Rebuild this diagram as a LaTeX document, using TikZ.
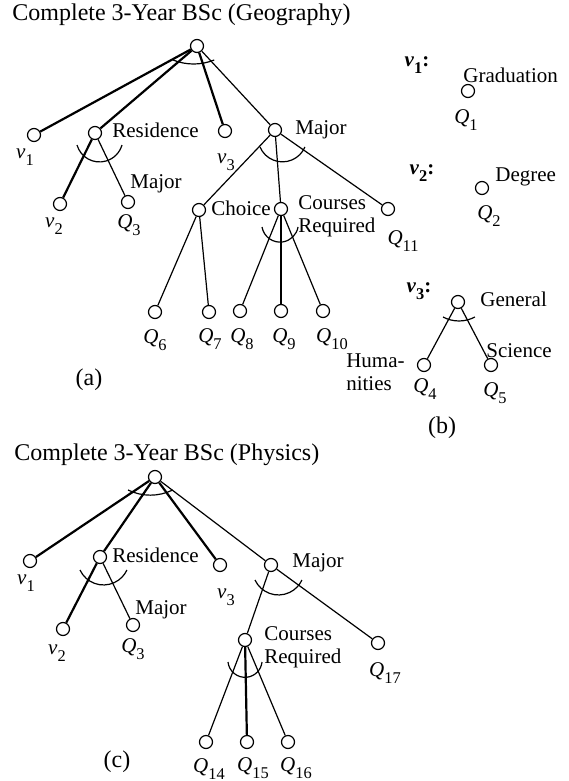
\documentclass[tikz,border=0pt]{standalone}
\usepackage{fontspec}
\setmainfont{Liberation Serif}
\usepackage{tikz}
\usetikzlibrary{calc}
\newcommand{\subdig}[1]{\raisebox{-0.32em}{\fontsize{8.2}{8.2}\selectfont #1}}
\newcommand{\qlab}[1]{\textit{Q}\subdig{#1}}
\newcommand{\vlab}[1]{\textit{v}\subdig{#1}}

\begin{document}
\begin{tikzpicture}[x=0.5pt, y=0.5pt,
        goal/.style={draw, circle, minimum size=6.5pt, inner sep=0pt, line width=0.6pt},
        txt/.style={inner sep=0pt, font=\fontsize{10.5}{11.5}\selectfont, align=left},
        ttl/.style={inner sep=0pt, font=\fontsize{12}{14}\selectfont},
        link/.style={line width=0.6pt},
        mustlink/.style={line width=1.1pt},
        andarc/.style={line width=0.6pt}
    ]
        \useasboundingbox (0,0) rectangle (568,-781);

        % (a) geography
        \node (ttla) [ttl, anchor=west] at (12,-15) {Complete 3-Year BSc (Geography)};
        \node (rta) [goal] at (197,-46) {};
        \node (v1a) [goal] at (34,-135) {};
        \node (resa) [goal] at (95,-133) {};
        \node (v3a) [goal] at (225,-131) {};
        \node (maja) [goal] at (275,-130) {};
        \node (v2a) [goal] at (60,-204) {};
        \node (q3a) [goal] at (128,-202) {};
        \node (choa) [goal] at (199,-210) {};
        \node (coua) [goal] at (281,-209) {};
        \node (q11a) [goal] at (388,-209) {};
        \node (q6a) [goal] at (155,-312) {};
        \node (q7a) [goal] at (209,-312) {};
        \node (q8a) [goal] at (240,-311) {};
        \node (q9a) [goal] at (281,-311) {};
        \node (q10a) [goal] at (323,-311) {};

        \node (lv1a) [txt] at (25,-157) {\vlab{1}};
        \node (lresa) [txt, anchor=west] at (112,-130) {Residence};
        \node (lv3a) [txt] at (226,-162) {\vlab{3}};
        \node (lmaja) [txt, anchor=west] at (295,-130) {Major};
        \node (lmajra) [txt, anchor=west] at (130,-184) {Major};
        \node (lv2a) [txt] at (54,-226) {\vlab{2}};
        \node (lq3a) [txt] at (129,-225) {\qlab{3}};
        \node (lchoa) [txt] at (241,-208) {Choice};
        \node (lcoua) [txt, anchor=west] at (298,-216) {Courses\\Required};
        \node (lq11a) [txt] at (403,-241) {\qlab{11}};
        \node (lq6a) [txt] at (155,-340) {\qlab{6}};
        \node (lq7a) [txt] at (210,-339) {\qlab{7}};
        \node (lq8a) [txt] at (242,-339) {\qlab{8}};
        \node (lq9a) [txt] at (284,-339) {\qlab{9}};
        \node (lq10a) [txt] at (332,-339) {\qlab{10}};
        \node (capa) [ttl] at (89,-380) {(a)};

        \draw [mustlink] (rta) -- (v1a);
        \draw [mustlink] (rta) -- (resa);
        \draw [mustlink] (rta) -- (v3a);
        \draw [link] (rta) -- (maja);
        \draw [mustlink] (resa) -- (v2a);
        \draw [link] (resa) -- (q3a);
        \draw [link] (maja) -- (choa);
        \draw [link] (maja) -- (coua);
        \draw [link] (maja) -- (q11a);
        \draw [link] (choa) -- (q6a);
        \draw [link] (choa) -- (q7a);
        \draw [link] (coua) -- (q8a);
        \draw [mustlink] (coua) -- (q9a);
        \draw [link] (coua) -- (q10a);

        \draw [andarc] ($(rta)+(-24,-14)$) arc[start angle=248, end angle=292, radius=55];
        \draw [andarc] ($(resa)+(-18,-12)$) arc[start angle=196, end angle=344, radius=23.4];
        \draw [andarc] ($(maja)+(-15,-17)$) arc[start angle=203, end angle=337, radius=24.4];
        \draw [andarc] ($(coua)+(-19,-18)$) arc[start angle=190, end angle=350, radius=18.3];

        % (b) sub-goals
        \node (lv1b) [txt] at (417,-65) {\textbf{\textit{v}\subdig{1}:}};
        \node (grad) [goal] at (468,-91) {};
        \node (lgrad) [txt, anchor=west] at (463,-75) {Graduation};
        \node (lq1) [txt] at (466,-120) {\qlab{1}};
        \node (lv2b) [txt] at (422,-173) {\textbf{\textit{v}\subdig{2}:}};
        \node (deg) [goal] at (482,-188) {};
        \node (ldeg) [txt, anchor=west] at (495,-177) {Degree};
        \node (lq2) [txt] at (489,-216) {\qlab{2}};
        \node (lv3b) [txt] at (419,-291) {\textbf{\textit{v}\subdig{3}:}};
        \node (gen) [goal] at (458,-302) {};
        \node (lgen) [txt, anchor=west] at (480,-299) {General};
        \node (q4b) [goal] at (424,-365) {};
        \node (q5b) [goal] at (491,-365) {};
        \node (lsci) [txt, anchor=west] at (486,-351) {Science};
        \node (lhum) [txt, anchor=east] at (405,-372) {Huma-\\nities};
        \node (lq4) [txt] at (425,-389) {\qlab{4}};
        \node (lq5) [txt] at (495,-393) {\qlab{5}};
        \node (capb) [ttl] at (442,-428) {(b)};

        \draw [link] (gen) -- (q4b);
        \draw [link] (gen) -- (q5b);
        \draw [andarc] ($(gen)+(-15,-15)$) arc[start angle=242, end angle=298, radius=34];

        % (c) physics
        \node (ttlc) [ttl, anchor=west] at (14,-455) {Complete 3-Year BSc (Physics)};
        \node (rtc) [goal] at (155,-477) {};
        \node (v1c) [goal] at (30,-561) {};
        \node (resc) [goal] at (100,-557) {};
        \node (v3c) [goal] at (220,-565) {};
        \node (majc) [goal] at (271,-565) {};
        \node (v2c) [goal] at (63,-629) {};
        \node (q3c) [goal] at (133,-625) {};
        \node (couc) [goal] at (245,-640) {};
        \node (q17c) [goal] at (378,-643) {};
        \node (q14c) [goal] at (206,-742) {};
        \node (q15c) [goal] at (247,-742) {};
        \node (q16c) [goal] at (288,-742) {};

        \node (lv1c) [txt] at (26,-583) {\vlab{1}};
        \node (lresc) [txt, anchor=west] at (112,-555) {Residence};
        \node (lv3c) [txt] at (226,-597) {\vlab{3}};
        \node (lmajc) [txt, anchor=west] at (292,-563) {Major};
        \node (lmajrc) [txt, anchor=west] at (135,-610) {Major};
        \node (lv2c) [txt] at (57,-653) {\vlab{2}};
        \node (lq3c) [txt] at (133,-649) {\qlab{3}};
        \node (lcouc) [txt, anchor=west] at (264,-647) {Courses\\Required};
        \node (lq17c) [txt] at (385,-673) {\qlab{17}};
        \node (lq14c) [txt] at (209,-769) {\qlab{14}};
        \node (lq15c) [txt] at (253,-768) {\qlab{15}};
        \node (lq16c) [txt] at (296,-768) {\qlab{16}};
        \node (capc) [ttl] at (117,-762) {(c)};

        \draw [mustlink] (rtc) -- (v1c);
        \draw [mustlink] (rtc) -- (resc);
        \draw [mustlink] (rtc) -- (v3c);
        \draw [link] (rtc) -- (majc);
        \draw [mustlink] (resc) -- (v2c);
        \draw [link] (resc) -- (q3c);
        \draw [link] (majc) -- (couc);
        \draw [link] (majc) -- (q17c);
        \draw [link] (couc) -- (q14c);
        \draw [mustlink] (couc) -- (q15c);
        \draw [link] (couc) -- (q16c);

        \draw [andarc] ($(rtc)+(-27,-13)$) arc[start angle=244, end angle=296, radius=51];
        \draw [andarc] ($(resc)+(-20,-13)$) arc[start angle=205, end angle=335, radius=25.9];
        \draw [andarc] ($(majc)+(-16,-15)$) arc[start angle=205, end angle=335, radius=25.9];
        \draw [andarc] ($(couc)+(-17,-22)$) arc[start angle=186, end angle=354, radius=17.1];
    \end{tikzpicture}
\end{document}
